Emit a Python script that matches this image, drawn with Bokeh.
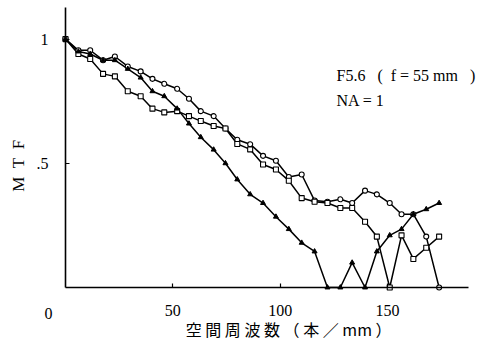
import math
from bokeh.plotting import figure
from bokeh.models import Range1d, Label, FixedTicker
from bokeh.embed import file_html
from bokeh.resources import INLINE

# spatial frequency (lines/mm)
freq = [0, 6, 11.5, 17.5, 23, 29, 35, 40.5, 46, 52,
        57.5, 63, 69, 74.5, 80, 86, 92, 98, 104, 110,
        116, 122, 128, 133.5, 139.5, 145, 151, 156.5, 162, 168,
        174]

# MTF curves
mtf_circle = [1.0, 0.955, 0.955, 0.915, 0.93, 0.89, 0.87, 0.84, 0.82, 0.80,
              0.76, 0.71, 0.69, 0.64, 0.595, 0.577, 0.53, 0.51, 0.445, 0.455,
              0.35, 0.345, 0.355, 0.34, 0.39, 0.375, 0.34, 0.295, 0.295, 0.205,
              0.0]
mtf_square = [1.0, 0.94, 0.92, 0.86, 0.85, 0.79, 0.77, 0.72, 0.705, 0.71,
              0.69, 0.67, 0.65, 0.64, 0.578, 0.556, 0.495, 0.475, 0.43, 0.36,
              0.345, 0.34, 0.32, 0.32, 0.265, 0.205, 0.0, 0.21, 0.115, 0.16,
              0.205]
mtf_triangle = [1.0, 0.95, 0.94, 0.915, 0.915, 0.88, 0.845, 0.79, 0.77, 0.72,
                0.66, 0.605, 0.555, 0.50, 0.435, 0.375, 0.34, 0.285, 0.235, 0.18,
                0.145, 0.0, 0.0, 0.10, 0.0, 0.145, 0.21, 0.235, 0.295, 0.315,
                0.34]

x_ticks = [50, 100, 150]
y_ticks = [0.5, 1]
y_tick_labels = {0.5: ".5", 1: "1"}

SERIF = "Liberation Serif"
X_MAX = 187.7
Y_MAX = 1.127
NB = "\u00a0"

# the frame covers the whole canvas; axes are pinned at the origin
p = figure(width=485, height=346, output_backend="svg", toolbar_location=None,
           x_range=Range1d(-30.27, 195.6), y_range=Range1d(-0.2375, 1.1554),
           min_border=0)
p.outline_line_color = None
p.grid.visible = False
p.background_fill_color = "white"
p.border_fill_color = "white"

p.xaxis.fixed_location = 0
p.yaxis.fixed_location = 0
p.xaxis.bounds = (0, X_MAX)
p.yaxis.bounds = (0, Y_MAX)

for ax in (p.xaxis[0], p.yaxis[0]):
    ax.axis_line_width = 1.6
    ax.axis_line_color = "black"
    ax.major_tick_in = 4
    ax.major_tick_out = 0
    ax.major_tick_line_width = 1.2
    ax.minor_tick_line_color = None
    ax.major_label_text_font = SERIF
    ax.major_label_text_font_size = "16px"
    ax.major_label_text_color = "black"
    ax.major_label_standoff = 17

p.xaxis.ticker = FixedTicker(ticks=x_ticks)
p.yaxis.ticker = FixedTicker(ticks=y_ticks)
p.yaxis.major_label_overrides = y_tick_labels

lw = 1.5
p.line(freq, mtf_circle, line_color="black", line_width=lw)
p.line(freq, mtf_square, line_color="black", line_width=lw)
p.line(freq, mtf_triangle, line_color="black", line_width=lw)
p.scatter(freq, mtf_circle, marker="circle", size=5, line_color="black",
          fill_color="white", line_width=1.1)
p.scatter(freq, mtf_square, marker="square", size=5, line_color="black",
          fill_color="white", line_width=1.1)
p.scatter(freq, mtf_triangle, marker="triangle", size=5, line_color="black",
          fill_color="black", line_width=1)

# origin label placed at the corner like the original
p.add_layout(Label(x=-7.9, y=-0.103, text="0", text_font=SERIF,
                   text_font_size="16px", text_align="center",
                   text_baseline="middle", text_color="black"))
# axis titles
xlab = NB.join(["空", "間", "周", "波", "数", "（", "本", "／", "mm", "）"])
p.add_layout(Label(x=103.9, y=-0.167, text=xlab,
                   text_font="Noto Sans CJK JP", text_font_size="16px",
                   text_align="center", text_baseline="middle",
                   text_color="black"))
ylab = (NB * 2).join(["M", "T", "F"])
p.add_layout(Label(x=-21.9, y=0.49, text=ylab, angle=math.pi / 2,
                   text_font=SERIF, text_font_size="17px",
                   text_align="center", text_baseline="middle",
                   text_color="black"))
# annotations
p.add_layout(Label(x=126.2, y=0.853,
                   text="F5.6" + NB * 3 + "(" + NB * 2 + "f = 55 mm" + NB * 3 + ")",
                   text_font=SERIF, text_font_size="16px",
                   text_align="left", text_baseline="middle",
                   text_color="black"))
p.add_layout(Label(x=126.2, y=0.753, text="NA = 1",
                   text_font=SERIF, text_font_size="16px",
                   text_align="left", text_baseline="middle",
                   text_color="black"))

open("out.html", "w").write(file_html(p, INLINE))
